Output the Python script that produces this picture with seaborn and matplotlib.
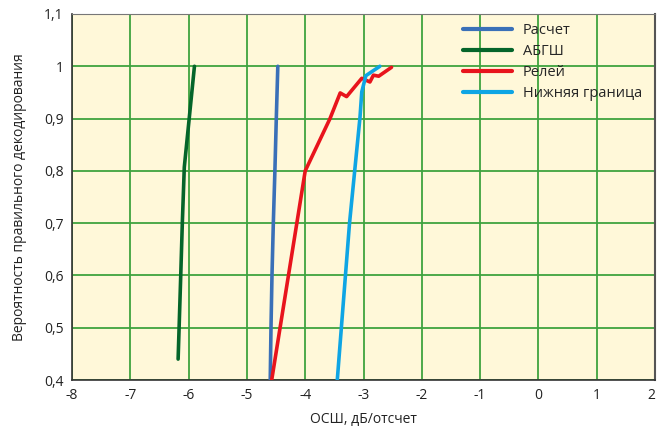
import matplotlib
matplotlib.use("Agg")
import matplotlib.pyplot as plt
import seaborn as sns
import pandas as pd

# Curves: SNR (dB/sample) vs probability of correct decoding
calc_x = [-4.60, -4.587, -4.57, -4.547, -4.52, -4.496, -4.47]
calc_y = [0.40, 0.50, 0.60, 0.70, 0.80, 0.90, 1.00]

awgn_x = [-6.18, -6.135, -6.108, -6.074, -5.99, -5.90]
awgn_y = [0.44, 0.60, 0.70, 0.807, 0.90, 1.00]

rayleigh_x = [-4.575, -4.00, -3.575, -3.40, -3.29, -3.03, -2.89, -2.83, -2.74, -2.52]
rayleigh_y = [0.40, 0.80, 0.90, 0.949, 0.942, 0.977, 0.970, 0.983, 0.981, 0.998]

bound_x = [-3.45, -3.24, -3.06, -3.03, -2.96, -2.72]
bound_y = [0.40, 0.70, 0.903, 0.951, 0.982, 1.00]

series_names = ["Расчет", "АБГШ", "Релей", "Нижняя граница"]
series_colors = ["#3a70b8", "#05652a", "#e8141c", "#0ea5e4"]

x_ticks = [-8, -7, -6, -5, -4, -3, -2, -1, 0, 1, 2]
y_ticks = [0.4, 0.5, 0.6, 0.7, 0.8, 0.9, 1.0, 1.1]
y_tick_labels = ["0,4", "0,5", "0,6", "0,7", "0,8", "0,9", "1", "1,1"]

frames = []
for name, xs, ys in zip(series_names,
                        [calc_x, awgn_x, rayleigh_x, bound_x],
                        [calc_y, awgn_y, rayleigh_y, bound_y]):
    frames.append(pd.DataFrame({"snr": xs, "p": ys, "series": name}))
df = pd.concat(frames, ignore_index=True)

sns.set_theme(style="white")
plt.rcParams["font.family"] = ["Open Sans", "DejaVu Sans"]

fig = plt.figure(figsize=(6.57, 4.29), dpi=100)
ax = fig.add_axes([0.1096, 0.1142, 0.8874, 0.8532])
ax.set_facecolor("#fff8d9")

sns.lineplot(data=df, x="snr", y="p", hue="series", hue_order=series_names,
             palette=dict(zip(series_names, series_colors)), sort=False,
             estimator=None, linewidth=2.6, ax=ax, zorder=3)

ax.set_xlim(-8, 2)
ax.set_ylim(0.4, 1.1)
ax.set_xticks(x_ticks)
ax.set_xticklabels([str(t) for t in x_ticks])
ax.set_yticks(y_ticks)
ax.set_yticklabels(y_tick_labels)
ax.grid(True, color="#3fa33f", linewidth=1.3, zorder=1)
ax.set_axisbelow(True)
ax.tick_params(axis="x", labelsize=10, colors="#222222", length=0, pad=6)
ax.tick_params(axis="y", labelsize=10, colors="#222222", length=0, pad=6)
ax.get_xticklabels()[-1].set_horizontalalignment("right")

for side in ["left", "bottom"]:
    ax.spines[side].set_color("#333333")
    ax.spines[side].set_linewidth(1.2)
ax.spines["top"].set_color("#777777")
ax.spines["top"].set_linewidth(0.8)
ax.spines["right"].set_color("#555555")
ax.spines["right"].set_linewidth(1.5)

ax.set_xlabel("ОСШ, дБ/отсчет", fontsize=10, color="#222222", labelpad=6)
ax.set_ylabel("Вероятность правильного декодирования", fontsize=10,
              color="#222222", labelpad=12)

leg = ax.legend(loc="upper right", bbox_to_anchor=(1.0, 1.012), frameon=False,
                fontsize=10.5, handlelength=3.4, handletextpad=0.7,
                labelspacing=0.42, title=None)
for line in leg.get_lines():
    line.set_linewidth(3.0)

fig.savefig("out.png", dpi=100)
